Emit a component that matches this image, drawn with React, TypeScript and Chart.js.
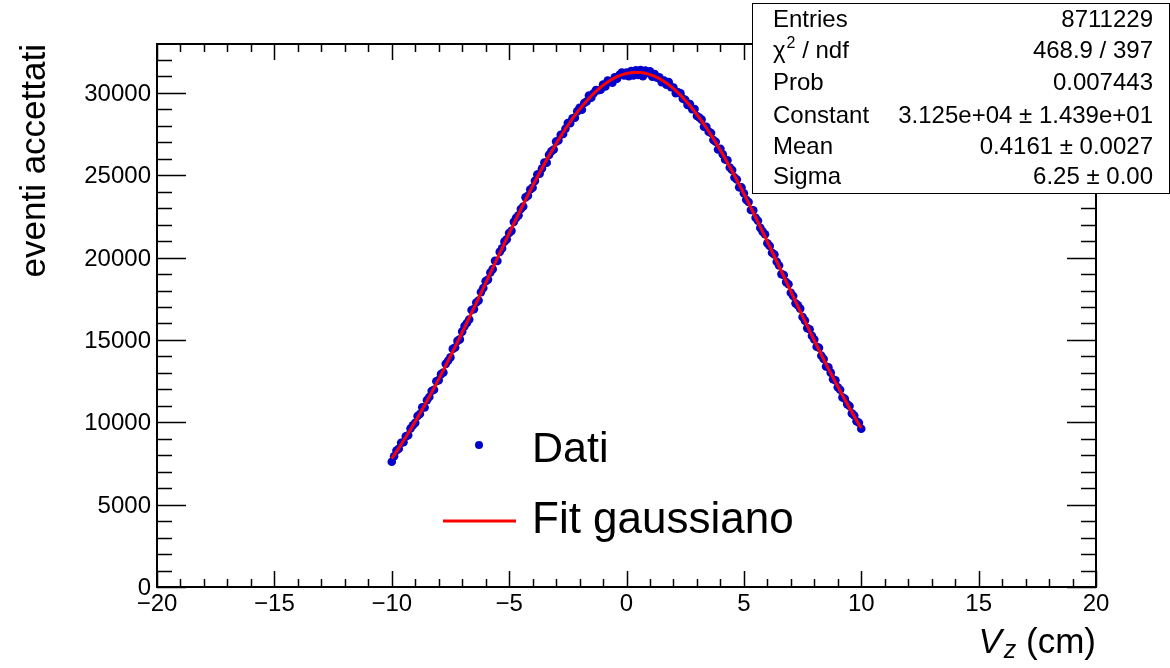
import React, { useEffect, useRef } from "react";
import { Chart, registerables } from "chart.js";

Chart.register(...registerables);

const VZ_BINS = [
  -10.0, -9.9, -9.8, -9.7, -9.6, -9.5, -9.4, -9.3, -9.2, -9.1,
  -9.0, -8.9, -8.8, -8.7, -8.6, -8.5, -8.4, -8.3, -8.2, -8.1,
  -8.0, -7.9, -7.8, -7.7, -7.6, -7.5, -7.4, -7.3, -7.2, -7.1,
  -7.0, -6.9, -6.8, -6.7, -6.6, -6.5, -6.4, -6.3, -6.2, -6.1,
  -6.0, -5.9, -5.8, -5.7, -5.6, -5.5, -5.4, -5.3, -5.2, -5.1,
  -5.0, -4.9, -4.8, -4.7, -4.6, -4.5, -4.4, -4.3, -4.2, -4.1,
  -4.0, -3.9, -3.8, -3.7, -3.6, -3.5, -3.4, -3.3, -3.2, -3.1,
  -3.0, -2.9, -2.8, -2.7, -2.6, -2.5, -2.4, -2.3, -2.2, -2.1,
  -2.0, -1.9, -1.8, -1.7, -1.6, -1.5, -1.4, -1.3, -1.2, -1.1,
  -1.0, -0.9, -0.8, -0.7, -0.6, -0.5, -0.4, -0.3, -0.2, -0.1,
  0.0, 0.1, 0.2, 0.3, 0.4, 0.5, 0.6, 0.7, 0.8, 0.9,
  1.0, 1.1, 1.2, 1.3, 1.4, 1.5, 1.6, 1.7, 1.8, 1.9,
  2.0, 2.1, 2.2, 2.3, 2.4, 2.5, 2.6, 2.7, 2.8, 2.9,
  3.0, 3.1, 3.2, 3.3, 3.4, 3.5, 3.6, 3.7, 3.8, 3.9,
  4.0, 4.1, 4.2, 4.3, 4.4, 4.5, 4.6, 4.7, 4.8, 4.9,
  5.0, 5.1, 5.2, 5.3, 5.4, 5.5, 5.6, 5.7, 5.8, 5.9,
  6.0, 6.1, 6.2, 6.3, 6.4, 6.5, 6.6, 6.7, 6.8, 6.9,
  7.0, 7.1, 7.2, 7.3, 7.4, 7.5, 7.6, 7.7, 7.8, 7.9,
  8.0, 8.1, 8.2, 8.3, 8.4, 8.5, 8.6, 8.7, 8.8, 8.9,
  9.0, 9.1, 9.2, 9.3, 9.4, 9.5, 9.6, 9.7, 9.8, 9.9, 10.0,
];

const DATA_COUNTS = [
  7604, 7943, 8287, 8393, 8763, 8787, 9144, 9214, 9628, 9825,
  9966, 10379, 10506, 10907, 10900, 11346, 11535, 11898, 11973, 12491,
  12561, 12925, 13020, 13548, 13739, 13942, 14457, 14544, 14943, 15034,
  15507, 15841, 16027, 16244, 16822, 16872, 17272, 17393, 17905, 18158,
  18570, 18664, 19097, 19300, 19803, 19796, 20348, 20559, 20970, 21119,
  21498, 21624, 22170, 22414, 22566, 22955, 23103, 23658, 23760, 24140,
  24247, 24660, 25050, 25098, 25411, 25770, 25766, 26237, 26454, 26566,
  27044, 27107, 27455, 27508, 27825, 28177, 28163, 28464, 28489, 28878,
  29100, 28976, 29386, 29479, 29836, 29705, 29978, 30174, 30163, 30194,
  30508, 30385, 30754, 30686, 30620, 30946, 30865, 31106, 31238, 31054,
  31241, 31010, 31331, 31065, 31370, 31097, 31386, 31008, 31361, 31216,
  31314, 30983, 31145, 30919, 30955, 30654, 30744, 30498, 30653, 30341,
  30332, 29976, 30033, 29972, 29645, 29580, 29269, 29322, 29008, 29018,
  28601, 28508, 28380, 27945, 27945, 27649, 27568, 27142, 27031, 26565,
  26604, 26279, 25959, 25915, 25467, 25315, 24869, 24740, 24267, 24262,
  23903, 23511, 23377, 22890, 22872, 22421, 22238, 21803, 21577, 21419,
  20870, 20710, 20299, 20187, 19745, 19522, 18999, 18945, 18512, 18379,
  17866, 17664, 17222, 17111, 16901, 16392, 16175, 15718, 15653, 15250,
  15029, 14589, 14531, 14046, 13842, 13391, 13342, 13015, 12611, 12550,
  12131, 11975, 11512, 11432, 11105, 10990, 10540, 10412, 10068, 9977, 9609,
];

const FIT_COUNTS = [
  7794, 8003, 8217, 8433, 8653, 8877, 9104, 9334, 9568, 9805,
  10046, 10289, 10536, 10787, 11040, 11296, 11555, 11818, 12083, 12351,
  12621, 12895, 13170, 13448, 13729, 14012, 14297, 14584, 14873, 15164,
  15457, 15751, 16047, 16344, 16642, 16942, 17242, 17543, 17845, 18148,
  18450, 18754, 19057, 19360, 19663, 19966, 20268, 20569, 20870, 21169,
  21468, 21764, 22060, 22354, 22646, 22935, 23223, 23508, 23790, 24070,
  24347, 24620, 24890, 25158, 25421, 25680, 25936, 26187, 26434, 26676,
  26914, 27147, 27375, 27598, 27815, 28027, 28233, 28434, 28629, 28818,
  29000, 29176, 29346, 29509, 29666, 29815, 29958, 30094, 30223, 30344,
  30458, 30565, 30664, 30756, 30840, 30916, 30985, 31046, 31098, 31144,
  31181, 31210, 31231, 31245, 31250, 31247, 31236, 31218, 31191, 31156,
  31114, 31063, 31005, 30939, 30865, 30784, 30694, 30598, 30493, 30381,
  30262, 30136, 30003, 29862, 29715, 29560, 29399, 29232, 29058, 28878,
  28691, 28498, 28300, 28095, 27885, 27669, 27448, 27222, 26991, 26755,
  26514, 26269, 26019, 25765, 25507, 25245, 24979, 24710, 24437, 24162,
  23883, 23601, 23317, 23030, 22742, 22451, 22158, 21863, 21567, 21269,
  20970, 20670, 20369, 20067, 19765, 19462, 19159, 18855, 18552, 18249,
  17946, 17644, 17342, 17041, 16741, 16442, 16145, 15848, 15553, 15260,
  14969, 14679, 14391, 14106, 13822, 13541, 13262, 12985, 12711, 12440,
  12171, 11905, 11642, 11382, 11125, 10870, 10620, 10372, 10128, 9887, 9649,
];

const X_TICKS = [-20, -15, -10, -5, 0, 5, 10, 15, 20];
const X_TICK_LABELS = ["\u221220", "\u221215", "\u221210", "\u22125", "0", "5", "10", "15", "20"];
const Y_TICKS = [0, 5000, 10000, 15000, 20000, 25000, 30000];
const Y_TICK_LABELS = ["0", "5000", "10000", "15000", "20000", "25000", "30000"];

const STATS_LABELS = ["Entries", "\u03c7", "Prob", "Constant", "Mean", "Sigma"];
const STATS_VALUES = [
  "8711229",
  "468.9 / 397",
  "0.007443",
  "3.125e+04 \u00b1 1.439e+01",
  "0.4161 \u00b1 0.0027",
  "6.25 \u00b1 0.00",
];

const LEGEND_LABELS = ["Dati", "Fit gaussiano"];
const X_TITLE_MAIN = "V";
const X_TITLE_SUB = "z";
const X_TITLE_UNIT = " (cm)";
const Y_TITLE = "eventi accettati";

const X_MIN = -20;
const X_MAX = 20;
const Y_MIN = 0;
const Y_MAX = 32970;

const BLUE = "rgb(0,0,205)";
const RED = "#ff0000";
const FONT = '"Liberation Sans", Arial, Helvetica, sans-serif';

const rootPlugin = {
  id: "rootStyle",
  afterDraw(chart: any) {
    const { ctx, chartArea: a, scales } = chart;
    const xs = scales.x;
    const ys = scales.y;
    ctx.save();

    // ticks
    ctx.strokeStyle = "#000";
    ctx.lineWidth = 1.5;
    ctx.beginPath();
    for (let v = X_MIN; v <= X_MAX; v += 1) {
      const px = Math.round(xs.getPixelForValue(v)) + 0.5;
      const len = v % 5 === 0 ? 16 : 8;
      ctx.moveTo(px, a.bottom);
      ctx.lineTo(px, a.bottom - len);
      ctx.moveTo(px, a.top);
      ctx.lineTo(px, a.top + len);
    }
    for (let v = Y_MIN; v <= Y_MAX; v += 1000) {
      const py = Math.round(ys.getPixelForValue(v)) + 0.5;
      const len = v % 5000 === 0 ? 29 : 15;
      ctx.moveTo(a.left, py);
      ctx.lineTo(a.left + len, py);
      ctx.moveTo(a.right, py);
      ctx.lineTo(a.right - len, py);
    }
    ctx.stroke();

    // frame
    ctx.lineWidth = 2;
    ctx.strokeRect(a.left, a.top, a.right - a.left, a.bottom - a.top);

    // tick labels
    ctx.fillStyle = "#000";
    ctx.font = `24px ${FONT}`;
    ctx.textAlign = "center";
    ctx.textBaseline = "alphabetic";
    X_TICKS.forEach((v, i) => {
      ctx.fillText(X_TICK_LABELS[i], xs.getPixelForValue(v), a.bottom + 24);
    });
    ctx.textAlign = "right";
    Y_TICKS.forEach((v, i) => {
      ctx.fillText(Y_TICK_LABELS[i], a.left - 6, ys.getPixelForValue(v) + 8);
    });

    // x title
    ctx.textAlign = "left";
    const fMain = `italic 35px ${FONT}`;
    const fSub = `italic 25px ${FONT}`;
    const fUnit = `35px ${FONT}`;
    ctx.font = fMain;
    const w1 = ctx.measureText(X_TITLE_MAIN).width;
    ctx.font = fSub;
    const w2 = ctx.measureText(X_TITLE_SUB).width;
    ctx.font = fUnit;
    const w3 = ctx.measureText(X_TITLE_UNIT).width;
    const gap = 2;
    let tx = a.right - (w1 + gap + w2 + w3);
    const tb = 653;
    ctx.font = fMain;
    ctx.fillText(X_TITLE_MAIN, tx, tb);
    tx += w1 + gap;
    ctx.font = fSub;
    ctx.fillText(X_TITLE_SUB, tx, tb + 5);
    tx += w2;
    ctx.font = fUnit;
    ctx.fillText(X_TITLE_UNIT, tx, tb);

    // y title
    ctx.save();
    ctx.translate(45, a.top);
    ctx.rotate(-Math.PI / 2);
    ctx.font = `35px ${FONT}`;
    ctx.textAlign = "right";
    ctx.fillText(Y_TITLE, 0, 0);
    ctx.restore();

    // legend
    ctx.fillStyle = BLUE;
    ctx.beginPath();
    ctx.arc(479, 445, 4, 0, Math.PI * 2);
    ctx.fill();
    ctx.strokeStyle = RED;
    ctx.lineWidth = 3;
    ctx.beginPath();
    ctx.moveTo(443, 521);
    ctx.lineTo(516, 521);
    ctx.stroke();
    ctx.fillStyle = "#000";
    ctx.textAlign = "left";
    ctx.font = `43px ${FONT}`;
    ctx.fillText(LEGEND_LABELS[0], 532, 462);
    ctx.font = `44px ${FONT}`;
    ctx.fillText(LEGEND_LABELS[1], 532, 533);

    // stats box
    const bx = 752.5, by = 3.5, bw = 417, bh = 190;
    ctx.fillStyle = "#fff";
    ctx.fillRect(bx, by, bw, bh);
    ctx.strokeStyle = "#000";
    ctx.lineWidth = 1;
    ctx.strokeRect(bx, by, bw, bh);
    ctx.fillStyle = "#000";
    const baselines = [27, 58, 90, 123, 154, 184];
    const sf = `24px ${FONT}`;
    STATS_LABELS.forEach((lab, i) => {
      ctx.textAlign = "left";
      ctx.font = sf;
      ctx.fillText(lab, 773, baselines[i]);
      if (i === 1) {
        const wc = ctx.measureText(lab).width;
        ctx.font = `16px ${FONT}`;
        ctx.fillText("2", 773 + wc + 1, baselines[i] - 10);
        const w2c = ctx.measureText("2").width;
        ctx.font = sf;
        ctx.fillText(" / ndf", 773 + wc + 1 + w2c, baselines[i]);
      }
      ctx.textAlign = "right";
      ctx.font = sf;
      ctx.fillText(STATS_VALUES[i], 1153, baselines[i]);
    });

    ctx.restore();
  },
};

export default function App() {
  const canvasRef = useRef<HTMLCanvasElement | null>(null);

  useEffect(() => {
    if (!canvasRef.current) return;
    const dataPts = VZ_BINS.map((x, i) => ({ x, y: DATA_COUNTS[i] }));
    const fitPts = VZ_BINS.map((x, i) => ({ x, y: FIT_COUNTS[i] }));
    const chart = new Chart(canvasRef.current, {
      type: "scatter",
      data: {
        datasets: [
          {
            label: LEGEND_LABELS[1],
            data: fitPts,
            showLine: true,
            borderColor: RED,
            borderWidth: 3,
            pointRadius: 0,
            fill: false,
            order: 0,
          } as any,
          {
            label: LEGEND_LABELS[0],
            data: dataPts,
            pointRadius: 4.3,
            pointBackgroundColor: BLUE,
            pointBorderWidth: 0,
            borderWidth: 0,
            order: 1,
          } as any,
        ],
      },
      options: {
        responsive: false,
        maintainAspectRatio: false,
        animation: false,
        devicePixelRatio: 1,
        events: [],
        layout: { padding: { left: 157, right: 74, top: 44, bottom: 81 } },
        scales: {
          x: { type: "linear", min: X_MIN, max: X_MAX, display: false },
          y: { type: "linear", min: Y_MIN, max: Y_MAX, display: false },
        },
        plugins: { legend: { display: false }, tooltip: { enabled: false } },
      },
      plugins: [rootPlugin],
    });
    return () => chart.destroy();
  }, []);

  return (
    <div style={{ position: "fixed", left: 0, top: 0, width: 1170, height: 668, background: "#fff" }}>
      <canvas ref={canvasRef} width={1170} height={668} />
    </div>
  );
}
